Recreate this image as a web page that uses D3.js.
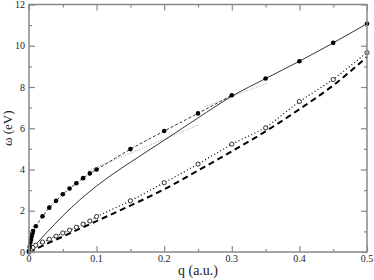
<!DOCTYPE html>
<meta charset="utf-8">
<style>
    body { margin: 0; background: #fff; }
    .frame { fill: none; stroke: #888; stroke-width: 1.5; }
    .tick line { stroke: #888; stroke-width: 1.2; }
</style>
<body>
<script src="https://cdn.jsdelivr.net/npm/d3@7"></script>
<div id="graph"></div>
<script>
    // filled circles (joined by a thin dashed line up to q = 0.3)
    var qFilled = [0, 0.001, 0.002, 0.003, 0.004, 0.005, 0.006, 0.01, 0.02, 0.03, 0.04, 0.05, 0.06, 0.07, 0.08, 0.09, 0.1, 0.15, 0.2, 0.25, 0.3, 0.35, 0.4, 0.45, 0.5];
    var wFilled = [0.05, 0.25, 0.45, 0.6, 0.75, 0.9, 1.02, 1.25, 1.73, 2.15, 2.48, 2.8, 3.08, 3.33, 3.58, 3.81, 4.0, 4.99, 5.87, 6.72, 7.6, 8.41, 9.25, 10.14, 11.07];
    var dashedUpTo = 0.3;

    // open circles (joined by a dotted line)
    var qOpen = [0, 0.002, 0.004, 0.006, 0.01, 0.02, 0.03, 0.04, 0.05, 0.06, 0.07, 0.08, 0.09, 0.1, 0.15, 0.2, 0.25, 0.3, 0.35, 0.4, 0.45, 0.5];
    var wOpen = [0, 0.07, 0.14, 0.22, 0.33, 0.48, 0.62, 0.77, 0.92, 1.06, 1.2, 1.35, 1.5, 1.72, 2.48, 3.36, 4.26, 5.23, 6.02, 7.3, 8.36, 9.67];

    // solid curve
    var qSolid = [0, 0.025, 0.05, 0.075, 0.1, 0.125, 0.15, 0.2, 0.25, 0.3, 0.35, 0.4, 0.45, 0.5];
    var wSolid = [0, 0.9, 1.75, 2.52, 3.2, 3.8, 4.35, 5.42, 6.5, 7.55, 8.41, 9.25, 10.14, 11.07];

    // thick dashed curve
    var qThick = [0, 0.05, 0.1, 0.15, 0.2, 0.25, 0.3, 0.35, 0.4, 0.45, 0.5];
    var wThick = [0, 0.75, 1.5, 2.25, 3.04, 3.95, 4.88, 5.85, 6.92, 8.08, 9.46];

    // grey dotted fits
    var fit1 = [[0.088, 3.95], [0.25, 6.15]];
    var fit2 = [[0.26, 7.05], [0.352, 8.18]];

    var xTicks = [0, 0.1, 0.2, 0.3, 0.4, 0.5];
    var xMinor = [0.05, 0.15, 0.25, 0.35, 0.45];
    var yTicks = [0, 2, 4, 6, 8, 10, 12];
    var yMinor = [1, 3, 5, 7, 9, 11];

    var width = 374, height = 280;
    var margin = {top: 4.5, right: 7, bottom: 28, left: 29};
    var w = width - margin.left - margin.right,
        h = height - margin.top - margin.bottom;
    var serif = "Liberation Serif, Times New Roman, DejaVu Serif, serif";

    var svg = d3.select("#graph").append("svg")
        .attr("width", width)
        .attr("height", height);
    var g = svg.append("g")
        .attr("transform", "translate(" + margin.left + "," + margin.top + ")");

    var x = d3.scaleLinear().domain([0, 0.5]).range([0, w]);
    var y = d3.scaleLinear().domain([0, 12]).range([h, 0]);

    function zip(qs, ws) { return qs.map(function(q, i) { return [q, ws[i]]; }); }
    var line = d3.line().x(function(d) { return x(d[0]); }).y(function(d) { return y(d[1]); });
    var smooth = d3.line().curve(d3.curveMonotoneX).x(function(d) { return x(d[0]); }).y(function(d) { return y(d[1]); });

    var filled = zip(qFilled, wFilled), open = zip(qOpen, wOpen);

    // grey fits
    [fit1, fit2].forEach(function(f) {
        g.append("path").datum(f).attr("d", line)
            .attr("fill", "none").attr("stroke", "#999").attr("stroke-width", 0.9)
            .attr("stroke-dasharray", "1,1.5");
    });

    g.append("path").datum(zip(qThick, wThick)).attr("d", smooth)
        .attr("fill", "none").attr("stroke", "#000").attr("stroke-width", 2)
        .attr("stroke-dasharray", "6,4");

    g.append("path").datum(open).attr("d", line)
        .attr("fill", "none").attr("stroke", "#000").attr("stroke-width", 1.2)
        .attr("stroke-dasharray", "1,2.5");

    g.append("path").datum(zip(qSolid, wSolid)).attr("d", smooth)
        .attr("fill", "none").attr("stroke", "#000").attr("stroke-width", 0.8);

    g.append("path").datum(filled.filter(function(d) { return d[0] <= dashedUpTo; })).attr("d", line)
        .attr("fill", "none").attr("stroke", "#000").attr("stroke-width", 0.8)
        .attr("stroke-dasharray", "3,2");

    g.selectAll("circle.open").data(open).enter().append("circle")
        .attr("class", "open")
        .attr("cx", function(d) { return x(d[0]); })
        .attr("cy", function(d) { return y(d[1]); })
        .attr("r", 2.1)
        .attr("fill", "#fff").attr("stroke", "#000").attr("stroke-width", 0.8);

    g.selectAll("circle.filled").data(filled).enter().append("circle")
        .attr("class", "filled")
        .attr("cx", function(d) { return x(d[0]); })
        .attr("cy", function(d) { return y(d[1]); })
        .attr("r", 2.3)
        .attr("fill", "#000");

    // axes: ticks inward on all four sides
    function ax(axis, ticks, len, tr) {
        var a = g.append("g").attr("transform", tr)
            .call(axis.tickValues(ticks).tickSize(len).tickFormat(""));
        a.select(".domain").remove();
        return a;
    }
    ax(d3.axisBottom(x), xTicks, -6, "translate(0," + h + ")");
    ax(d3.axisBottom(x), xMinor, -3, "translate(0," + h + ")");
    ax(d3.axisTop(x), xTicks, -6, "translate(0,0)");
    ax(d3.axisTop(x), xMinor, -3, "translate(0,0)");
    ax(d3.axisLeft(y), yTicks, -6, "translate(0,0)");
    ax(d3.axisLeft(y), yMinor, -3, "translate(0,0)");
    ax(d3.axisRight(y), yTicks, -6, "translate(" + w + ",0)");
    ax(d3.axisRight(y), yMinor, -3, "translate(" + w + ",0)");

    g.append("rect").attr("class", "frame").attr("width", w).attr("height", h);

    g.selectAll("text.xl").data(xTicks).enter().append("text")
        .attr("x", function(d) { return x(d); })
        .attr("y", h + 10)
        .attr("text-anchor", "middle")
        .attr("font-family", serif).attr("font-size", 10).attr("fill", "#222")
        .text(function(d) { return d; });

    g.selectAll("text.yl").data(yTicks).enter().append("text")
        .attr("x", -4)
        .attr("y", function(d) { return y(d) + 3.5; })
        .attr("text-anchor", "end")
        .attr("font-family", serif).attr("font-size", 10).attr("fill", "#222")
        .text(function(d) { return d; });

    g.append("text")
        .attr("x", w / 2).attr("y", h + 23)
        .attr("text-anchor", "middle")
        .attr("font-family", serif).attr("font-size", 14).attr("fill", "#222")
        .text("q (a.u.)");

    g.append("text")
        .attr("transform", "translate(-17," + (h / 2) + ") rotate(-90)")
        .attr("text-anchor", "middle")
        .attr("font-family", serif).attr("font-size", 13).attr("fill", "#222")
        .text("ω (eV)");
</script>
</body>
